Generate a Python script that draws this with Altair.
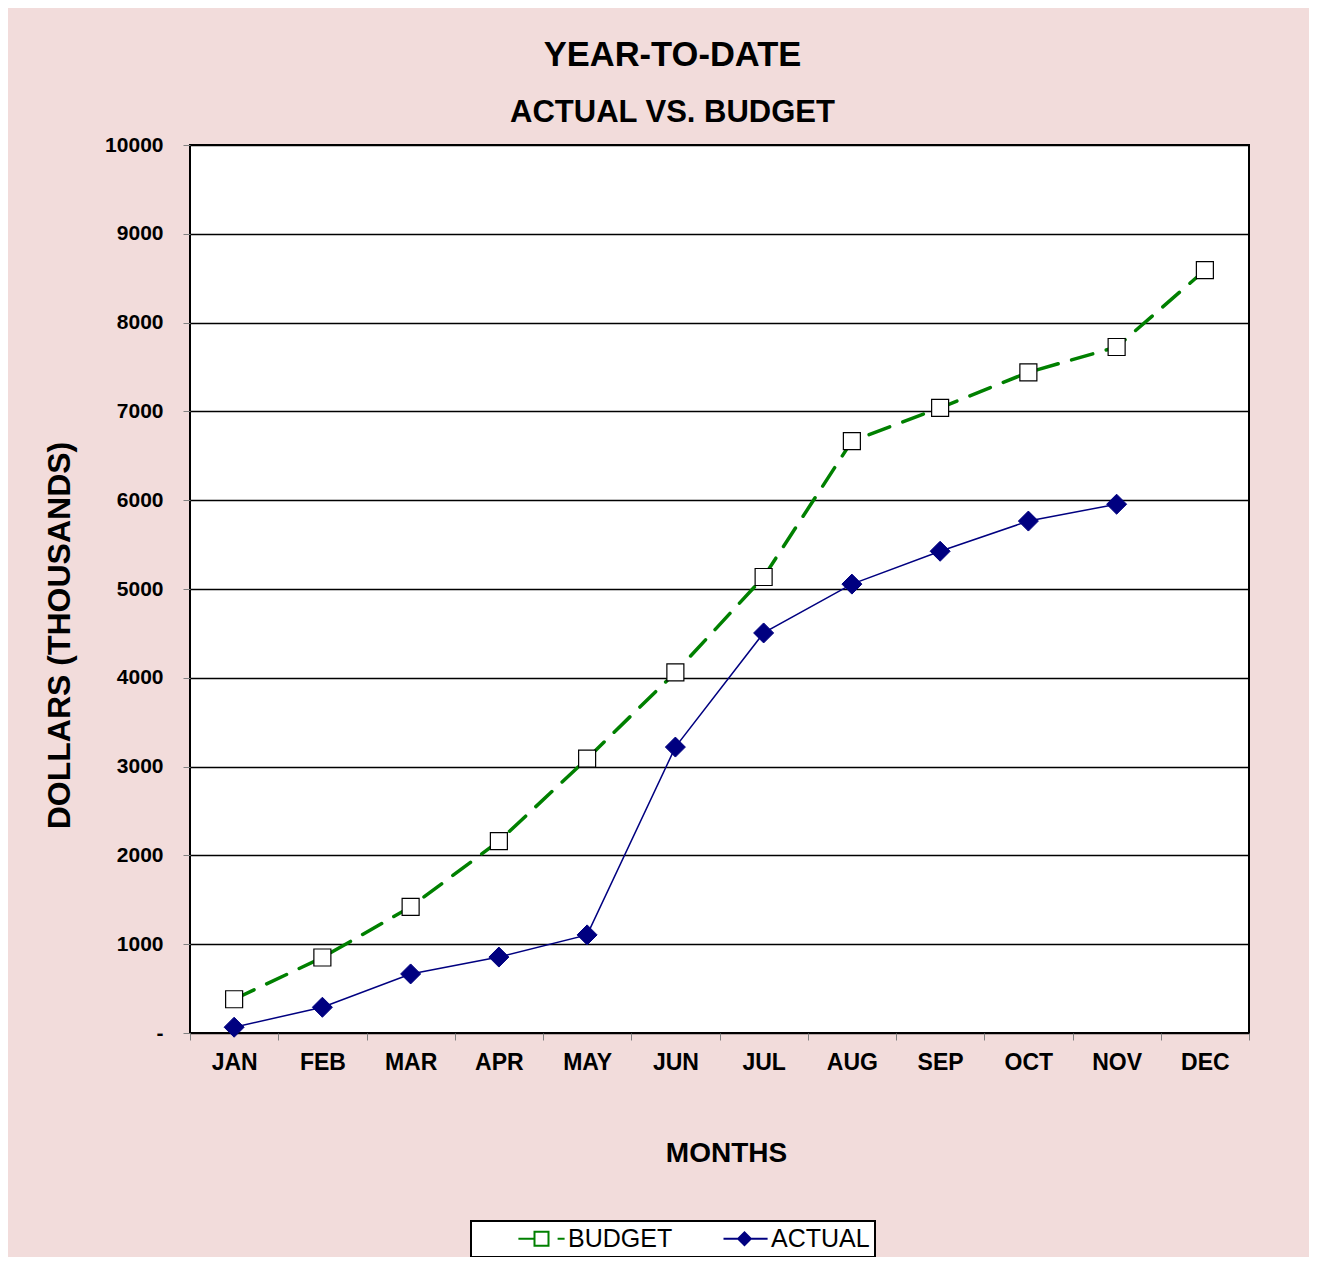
import altair as alt
import pandas as pd

months = ["JAN", "FEB", "MAR", "APR", "MAY", "JUN", "JUL", "AUG", "SEP", "OCT", "NOV", "DEC"]
budget = [380, 850, 1420, 2160, 3090, 4060, 5135, 6665, 7040, 7440, 7725, 8590]
actual = [65, 290, 665, 855, 1105, 3220, 4505, 5055, 5425, 5765, 5955]
series_names = ["BUDGET", "ACTUAL"]
y_ticks = list(range(0, 10001, 1000))

rows = [{"month": m, "series": "BUDGET", "value": v} for m, v in zip(months, budget)]
rows += [{"month": m, "series": "ACTUAL", "value": v} for m, v in zip(months, actual)]
df = pd.DataFrame(rows)

FONT = "Liberation Sans"
GREEN = "#008000"
NAVY = "#000080"
PINK = "#F2DCDB"

BUDGET_PATH = "M-3.3,0H-1M-1,-1H1V1H-1ZM2.3,0H3.3"
ACTUAL_PATH = "M-3,0H-0.9L0,-0.9L0.9,0L0,0.9L-0.9,0M0.9,0H3.3"

x_enc = alt.X(
    "month:N",
    sort=months,
    scale=alt.Scale(type="band", domain=months, paddingInner=0, paddingOuter=0),
    axis=alt.Axis(
        title="MONTHS",
        tickBand="extent",
        labelAngle=0,
        labelFont=FONT,
        labelFontSize=23,
        labelFontWeight="bold",
        labelColor="black",
        labelPadding=11,
        tickColor="#808080",
        tickSize=7,
        tickWidth=1,
        domain=False,
        grid=False,
        titleFont=FONT,
        titleFontSize=28,
        titleFontWeight="bold",
        titleColor="black",
        titleX=536,
        titleY=128,
        titleBaseline="alphabetic",
    ),
)

y_enc = alt.Y(
    "value:Q",
    scale=alt.Scale(domain=[0, 10000], nice=False),
    axis=alt.Axis(
        values=y_ticks,
        format="d",
        labelExpr="datum.value == 0 ? '-' : datum.label",
        title="DOLLARS (THOUSANDS)",
        labelFont=FONT,
        labelFontSize=21,
        labelFontWeight="bold",
        labelColor="black",
        labelPadding=20,
        tickColor="#808080",
        tickSize=7,
        tickWidth=1,
        domain=False,
        grid=True,
        gridColor="black",
        gridWidth=1.5,
        titleFont=FONT,
        titleFontSize=32,
        titleFontWeight="bold",
        titleColor="black",
        titleX=-121,
        titleY=490,
        titleBaseline="alphabetic",
    ),
)

PAD = "\u00a0" * 6

legend = alt.Legend(
    title=None,
    orient="none",
    legendX=281,
    legendY=1076,
    direction="horizontal",
    strokeColor="black",
    fillColor="white",
    padding=5,
    symbolSize=196,
    symbolOffset=53,
    symbolStrokeWidth=2,
    symbolOpacity=1,
    labelOffset=14,
    columnPadding=6,
    labelFont=FONT,
    labelFontSize=25,
    labelColor="black",
    labelExpr=f"datum.value === 'ACTUAL' ? 'ACTUAL{PAD}' : datum.value",
)

base = alt.Chart(df).encode(x=x_enc, y=y_enc)

budget_line = base.transform_filter(alt.datum.series == "BUDGET").mark_line(
    stroke=GREEN, strokeDash=[22, 14], strokeWidth=3.5, strokeCap="round"
)

actual_line = base.transform_filter(alt.datum.series == "ACTUAL").mark_line(
    stroke=NAVY, strokeWidth=1.5
)

budget_pts = base.transform_filter(alt.datum.series == "BUDGET").mark_point(
    shape="square", filled=True, fill="white", stroke="black", strokeWidth=1.2, size=289, opacity=1
)

actual_pts = base.transform_filter(alt.datum.series == "ACTUAL").mark_point(
    shape="diamond", filled=True, fill=NAVY, stroke=NAVY, strokeWidth=1, size=400, opacity=1
)

legend_layer = base.transform_filter("false").mark_point(filled=True, opacity=1).encode(
    shape=alt.Shape("series:N", scale=alt.Scale(domain=series_names, range=[BUDGET_PATH, ACTUAL_PATH]), legend=legend),
    fill=alt.Fill("series:N", scale=alt.Scale(domain=series_names, range=["white", NAVY]), legend=legend),
    stroke=alt.Stroke("series:N", scale=alt.Scale(domain=series_names, range=[GREEN, NAVY]), legend=legend),
)

chart = alt.layer(budget_line, actual_line, budget_pts, actual_pts, legend_layer).properties(
    width=1059,
    height=888,
    autosize=alt.AutoSizeParams(type="none"),
    padding={"left": 182, "top": 137, "right": 60, "bottom": 224},
    background=PINK,
    title=alt.Title(
        "YEAR-TO-DATE",
        subtitle="ACTUAL VS. BUDGET",
        font=FONT,
        fontSize=34.5,
        fontWeight="bold",
        color="black",
        subtitleFont=FONT,
        subtitleFontSize=31,
        subtitleFontWeight="bold",
        subtitleColor="black",
        subtitlePadding=25,
        anchor="middle",
        dx=-47,
        offset=5,
    ),
).configure_view(stroke="black", strokeWidth=2, fill="white").configure_legend(strokeWidth=2)

chart.save("out.html", embed_options={"renderer": "svg", "actions": False})
